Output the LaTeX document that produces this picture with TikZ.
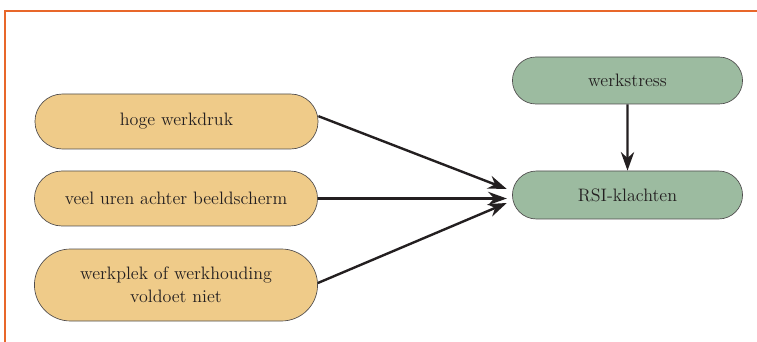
\documentclass[tikz,border=0pt]{standalone}
\usepackage{tikz}
\usetikzlibrary{shapes.misc, arrows.meta}

\definecolor{framecol}{HTML}{E8672A}
\definecolor{causecol}{HTML}{EFCB89}
\definecolor{effectcol}{HTML}{9CBBA0}
\definecolor{linecol}{HTML}{231F20}

\begin{document}
\begin{tikzpicture}[
        x=0.75pt, y=-0.75pt,
        every node/.style = {
            rounded rectangle,
            draw=linecol!80,
            line width=0.5pt,
            align=center,
            text=linecol,
            font=\fontsize{13.5}{17}\selectfont
        },
        cause/.style = {
            fill=causecol,
            minimum width=292*0.75pt,
            minimum height=55*0.75pt
        },
        effect/.style = {
            fill=effectcol,
            minimum width=239*0.75pt,
            minimum height=47*0.75pt
        },
        arrow/.style = {
            draw=linecol,
            line width=1.8pt,
            -{Stealth[length=14pt,width=10pt]}
        }]
        \useasboundingbox (0,0) rectangle (757,342);
        \draw[framecol, line width=1.2pt] (5,342) -- (5,11) -- (757,11);

        \node[cause] (hoge) at (176.5,121.5) {hoge werkdruk};
        \node[cause] (uren) at (176,198.5) {veel uren achter beeldscherm};
        \node[cause, minimum height=72*0.75pt] (plek) at (176,285) {werkplek of werkhouding\\voldoet niet};
        \node[effect] (stress) at (627.5,80.5) {werkstress};
        \node[effect, minimum height=48*0.75pt] (rsi) at (627.5,195) {RSI-klachten};

        \draw[arrow] ([yshift=4pt]hoge.east) -- ([xshift=-4pt, yshift=4.5pt]rsi.west);
        \draw[arrow] (uren.east) -- ([xshift=-4pt]uren.east -| rsi.west);
        \draw[arrow] ([yshift=1.5pt]plek.east) -- ([xshift=-4pt, yshift=-6pt]rsi.west);
        \draw[arrow] (stress) -- (rsi);
\end{tikzpicture}
\end{document}
